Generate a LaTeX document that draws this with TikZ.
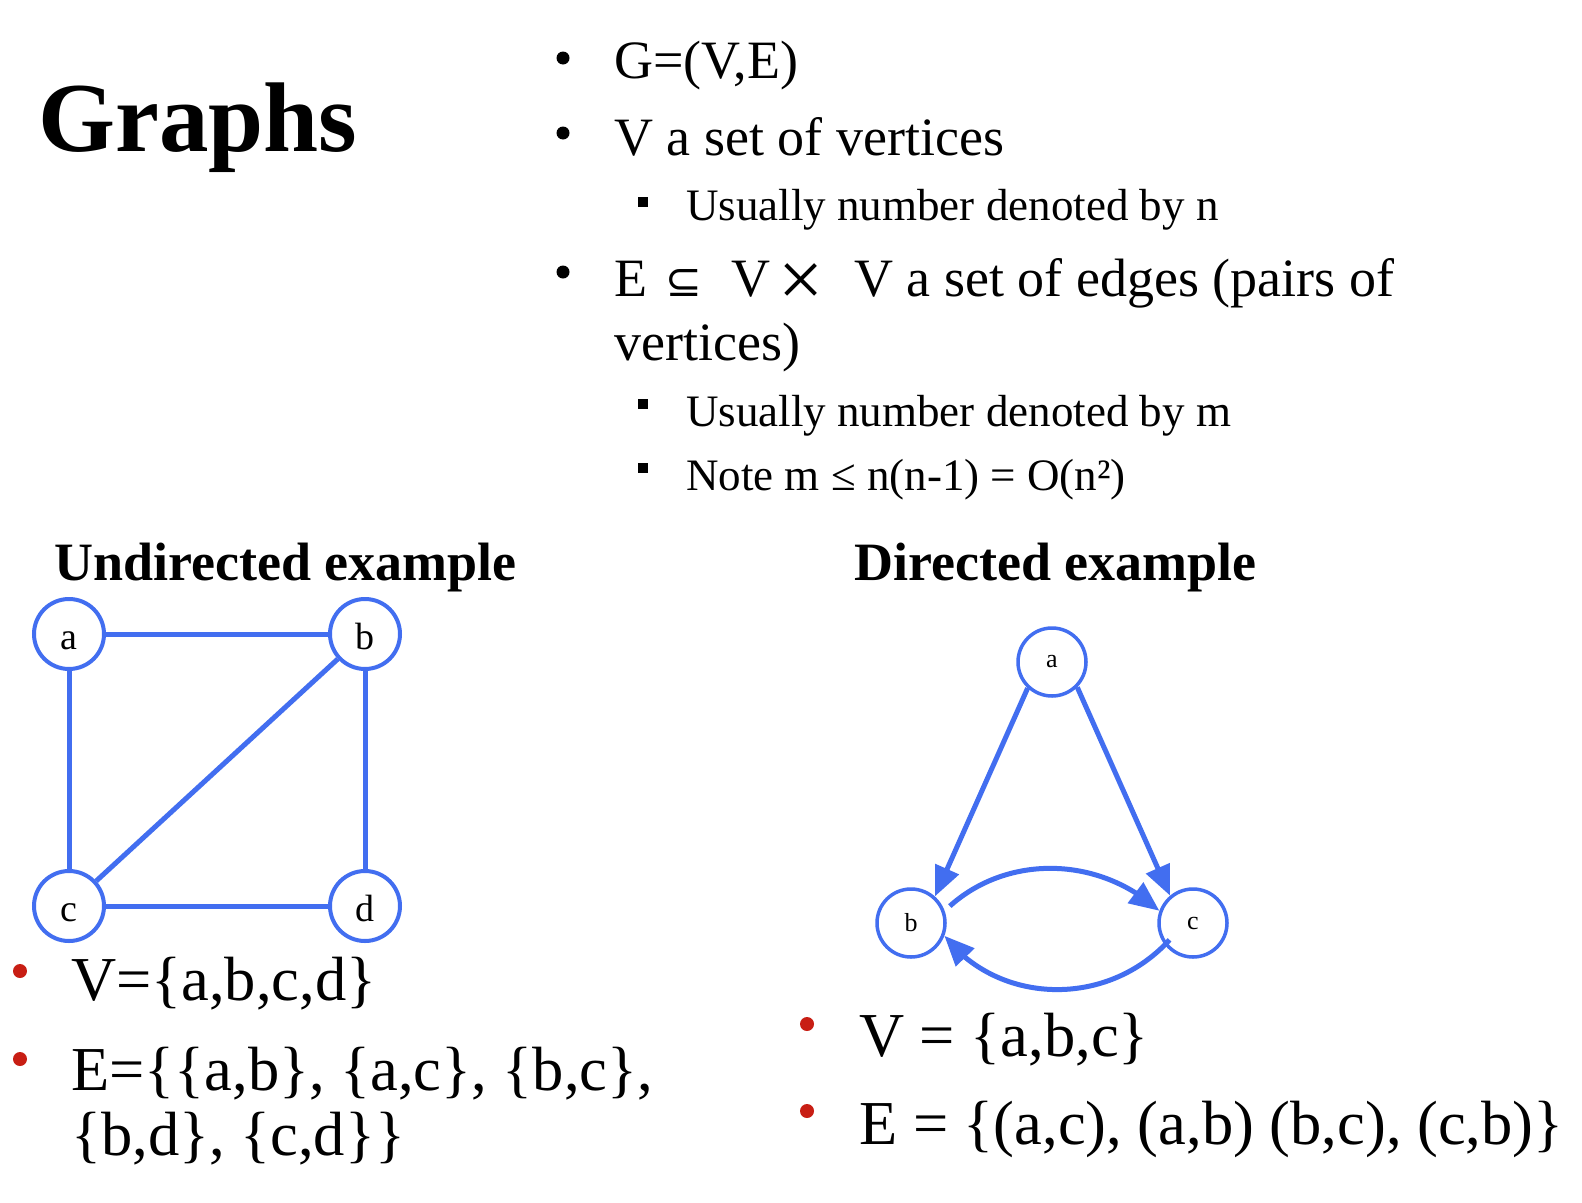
\documentclass[tikz,border=0pt]{standalone}
\usepackage{fontspec}
\setmainfont{Liberation Serif}
\newfontfamily\symfnt{DejaVu Sans}
\usetikzlibrary{arrows.meta,bending}
\definecolor{gblue}{RGB}{66,110,240}
\definecolor{bred}{RGB}{200,30,20}
\newcommand\fsz[1]{\fontsize{#1}{#1}\selectfont}
\begin{document}
\begin{tikzpicture}[x=1pt,y=-1pt,
  txt/.style={anchor=base west,inner sep=0pt},
  lvl/.style={txt,font=\fsz{54}},
  sublvl/.style={txt,font=\fsz{45}},
  big/.style={txt,font=\fsz{62.5}},
  head/.style={txt,font=\fsz{54}\bfseries},
  vtx/.style={circle,draw=gblue,line width=4pt,minimum size=70pt,inner sep=0pt,fill=white,font=\fsz{38},text height=30pt,text depth=0pt},
  dvtx/.style={circle,draw=gblue,line width=3.5pt,minimum size=68pt,inner sep=0pt,fill=white,font=\fsz{26}},
  uedge/.style={draw=gblue,line width=5pt},
  dedge/.style={draw=gblue,line width=5pt,-{Triangle[length=30pt,width=25pt]}},
]
\useasboundingbox (0,0) rectangle (1582,1202);
\fill[white] (0,0) rectangle (1582,1202);

% title
\node[txt,font=\fsz{99}\bfseries] (title) at (38,151) {Graphs};

% top bullet list
\fill (563,58) circle (6.5);
\fill (563,133) circle (6.5);
\fill (563,272) circle (6.5);
\fill (638,197) rectangle (648,207);
\fill (638,399) rectangle (648,409);
\fill (638,463) rectangle (648,473);
\node[lvl] (t1) at (614,78) {G=(V,E)};
\node[lvl] (t2) at (614,155) {V a set of vertices};
\node[sublvl] (s1) at (686,220) {Usually number denoted by n};
\node[lvl] (t3) at (614,296) {E\hspace{18pt}{\symfnt\fontsize{44}{44}\selectfont ⊆}\hspace{29pt}V\hspace{8pt}\raisebox{-10pt}{\fontsize{80}{80}\selectfont ×}\hspace{31pt}V a set of edges (pairs of};
\node[lvl] (t4) at (614,360) {vertices)};
\node[sublvl] (s2) at (686,426) {Usually number denoted by m};
\node[sublvl] (s3) at (686,490) {Note m ≤ n(n-1) = O(n²)};

% headings
\node[head] (h1) at (54,580) {Undirected example};
\node[head] (h2) at (854,580) {Directed example};

% undirected graph
\node[vtx] (ua) at (69,634) {a};
\node[vtx] (ub) at (365,634) {b};
\node[vtx] (uc) at (69,906) {c};
\node[vtx] (ud) at (365,906) {d};
\draw[uedge] (ua) -- (ub);
\draw[uedge] (ua) -- (uc);
\draw[uedge] (ub) -- (uc);
\draw[uedge] (ub) -- (ud);
\draw[uedge] (uc) -- (ud);

% directed graph
\node[dvtx] (da) at (1052,662) {a};
\node[dvtx] (db) at (911,923) {b};
\node[dvtx] (dc) at (1193,923) {c};
\draw[dedge] (da.227) -- (db.48);
\draw[dedge] (da.315) -- (dc.130);
\draw[dedge,shorten <=7pt] (db.20) to[bend left=42] (dc.160);
\draw[dedge,shorten <=-7pt] (dc.218) to[bend left=50] (db.339);

% bottom bullets
\fill[bred] (20,971) circle (7);
\fill[bred] (20,1059) circle (7);
\fill[bred] (807,1024) circle (7);
\fill[bred] (807,1111) circle (7);
\node[big] (v1) at (71,1000) {V=\{a,b,c,d\}};
\node[big] (e1) at (71,1090) {E=\{\{a,b\}, \{a,c\}, \{b,c\},};
\node[big] (e1b) at (71,1155) {\{b,d\}, \{c,d\}\}};
\node[big] (v2) at (859,1056) {V = \{a,b,c\}};
\node[big] (e2) at (859,1144) {E = \{(a,c), (a,b) (b,c), (c,b)\}};
\end{tikzpicture}
\end{document}
